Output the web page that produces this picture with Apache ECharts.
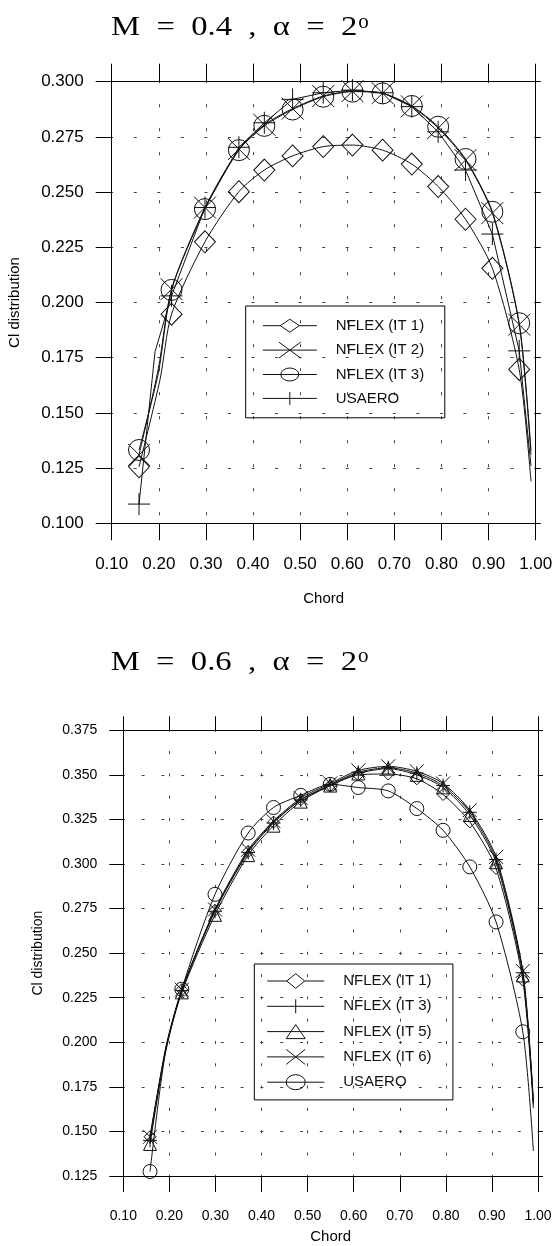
<!DOCTYPE html>
<html>
<head>
<meta charset="utf-8">
<script src="https://cdn.jsdelivr.net/npm/echarts@6/dist/echarts.min.js"></script>
<style>
  html, body { margin: 0; padding: 0; background: #fff; }
  #chart { width: 553px; height: 1246px; }
</style>
</head>
<body>
<div id="chart"></div>
<script>
// ======================
// DATA
// ======================

// upper plot: M = 0.4
const chordTop = [0.158, 0.227, 0.298, 0.370, 0.424, 0.484, 0.549, 0.611, 0.675, 0.737, 0.793, 0.851, 0.908, 0.965];
const topIt1 = [0.1256, 0.1947, 0.2275, 0.2502, 0.2600, 0.2664, 0.2706, 0.2713, 0.2690, 0.2627, 0.2525, 0.2377, 0.2155, 0.1697];
const topIt2 = [0.1310, 0.2060, 0.2430, 0.2695, 0.2805, 0.2878, 0.2935, 0.2957, 0.2948, 0.2888, 0.2790, 0.2645, 0.2405, 0.1900];
const topIt3 = [0.1332, 0.2057, 0.2423, 0.2690, 0.2800, 0.2874, 0.2932, 0.2955, 0.2947, 0.2890, 0.2796, 0.2650, 0.2411, 0.1906];
const topUsaero = [0.1087, 0.2030, 0.2430, 0.2703, 0.2814, 0.2920, 0.2950, 0.2962, 0.2950, 0.2887, 0.2773, 0.2600, 0.2310, 0.1781];
// points where the curves bend / end without a marker
const topIt1Extra = [[0.2025, 0.165], [0.990, 0.119]];
const topIt2Extra = [[0.199, 0.170], [0.990, 0.131]];
const topIt3Extra = [[0.199, 0.168], [0.990, 0.133]];
const topUsaeroExtra = [[0.192, 0.1777], [0.990, 0.126]];

// lower plot: M = 0.6
const chordBot = [0.158, 0.227, 0.299, 0.371, 0.426, 0.485, 0.549, 0.610, 0.675, 0.737, 0.794, 0.852, 0.909, 0.967];
const botIt1 = [0.1470, 0.2295, 0.2740, 0.3070, 0.3235, 0.3360, 0.3440, 0.3500, 0.3505, 0.3478, 0.3390, 0.3236, 0.2975, 0.2349];
const botIt3 = [0.1450, 0.2290, 0.2735, 0.3065, 0.3230, 0.3360, 0.3445, 0.3515, 0.3540, 0.3510, 0.3440, 0.3290, 0.3025, 0.2390];
const botIt5 = [0.1430, 0.2280, 0.2715, 0.3050, 0.3215, 0.3350, 0.3440, 0.3508, 0.3535, 0.3500, 0.3430, 0.3275, 0.3010, 0.2375];
const botIt6 = [0.1470, 0.2295, 0.2745, 0.3080, 0.3240, 0.3370, 0.3452, 0.3525, 0.3548, 0.3520, 0.3452, 0.3302, 0.3040, 0.2400];
const botUsaero = [0.1275, 0.2298, 0.2830, 0.3174, 0.3317, 0.3385, 0.3447, 0.3429, 0.3410, 0.3311, 0.3189, 0.2984, 0.2675, 0.2059];
const botIt1Extra = [[0.193, 0.1970], [0.990, 0.163]];
const botIt3Extra = [[0.193, 0.1975], [0.990, 0.166]];
const botIt5Extra = [[0.193, 0.1965], [0.990, 0.165]];
const botIt6Extra = [[0.193, 0.1980], [0.990, 0.167]];
const botUsaeroExtra = [[0.190, 0.1920], [0.990, 0.139]];

const topNames = ['NFLEX (IT 1)', 'NFLEX (IT 2)', 'NFLEX (IT 3)', 'USAERO'];
const botNames = ['NFLEX (IT 1)', 'NFLEX (IT 3)', 'NFLEX (IT 5)', 'NFLEX (IT 6)', 'USAERO'];

// ======================
// SYMBOLS
// ======================

const SYM = {
    plus: 'path://M10 0L10 20M0 10L20 10',
    cross: 'path://M0 0L20 20M20 0L0 20'
};

// legend icons: line + marker, sized to itemWidth x itemHeight
const topIcons = [
    'path://M0 8L17.5 8M36.5 8L54 8M17.5 8L27 1.5L36.5 8L27 14.5Z',
    'path://M0 8L54 8M16 0L38 16M38 0L16 16',
    'path://M0 8L54 8M18 8A9 6.5 0 1 0 36 8A9 6.5 0 1 0 18 8',
    'path://M0 8L54 8M27 1.5L27 14.5'
];
const botIcons = [
    'path://M0 8L19.5 8M37.5 8L57 8M19.5 8L28.5 0.7L37.5 8L28.5 15.3Z',
    'path://M0 8L57 8M28.5 1L28.5 15',
    'path://M0 8L57 8M19 15L28.5 1L38 15Z',
    'path://M0 8L57 8M19 0.5L38 15.5M38 0.5L19 15.5',
    'path://M0 8L57 8M19 8A9.5 7.5 0 1 0 38 8A9.5 7.5 0 1 0 19 8'
];

// ======================
// HELPERS
// ======================

function buildData(xs, ys, extra) {
    const marked = xs.map((x, i) => ({ value: [x, ys[i]] }));
    const plain = extra.map(p => ({ value: p, symbol: 'none' }));
    return marked.concat(plain).sort((a, b) => a.value[0] - b.value[0]);
}

function lineSeries(name, idx, data, symbol, size, smooth) {
    return {
        name,
        type: 'line',
        xAxisIndex: idx * 2,
        yAxisIndex: idx * 2,
        data,
        symbol,
        symbolSize: size,
        smooth,
        showAllSymbol: true,
        lineStyle: { color: '#111', width: 1 },
        itemStyle: { color: 'rgba(0,0,0,0)', borderColor: '#111', borderWidth: 1 },
        emphasis: { disabled: true },
        z: 3
    };
}

const FONT = 'Liberation Sans';

function xAxes(grid, opt) {
    return [{
        gridIndex: grid, type: 'value', position: 'bottom',
        min: 0.1, max: 1.0, interval: 0.1,
        axisLine: { show: true, onZero: false, lineStyle: { color: '#000', width: 1 } },
        axisTick: { show: true, inside: false, length: opt.tickLen, lineStyle: { color: '#000' } },
        axisLabel: { margin: opt.labelMargin, fontSize: opt.labelSize, fontFamily: FONT, color: '#000', formatter: v => v.toFixed(2) },
        splitLine: { show: true, lineStyle: { color: '#444', width: 1, type: opt.vDash, dashOffset: 1.5 } },
        name: 'Chord', nameLocation: 'middle', nameGap: opt.nameGap,
        nameTextStyle: { fontSize: opt.nameSize, fontFamily: FONT, color: '#000' }
    }, {
        gridIndex: grid, type: 'value', position: 'top',
        min: 0.1, max: 1.0, interval: 0.1,
        axisLine: { show: true, onZero: false, lineStyle: { color: '#000', width: 1 } },
        axisTick: { show: true, inside: false, length: opt.topTickLen, lineStyle: { color: '#000' } },
        axisLabel: { show: false },
        splitLine: { show: false }
    }];
}

function yAxes(grid, opt) {
    return [{
        gridIndex: grid, type: 'value', position: 'left',
        min: opt.min, max: opt.max, interval: 0.025,
        axisLine: { show: true, onZero: false, lineStyle: { color: '#000', width: 1 } },
        axisTick: { show: true, inside: false, length: opt.tickLen, lineStyle: { color: '#000' } },
        axisLabel: { margin: opt.labelMargin, fontSize: opt.labelSize, fontFamily: FONT, color: '#000', formatter: v => v.toFixed(3) },
        splitLine: { show: true, lineStyle: { color: '#444', width: 1, type: opt.hDash, dashOffset: 1.5 } },
        name: 'Cl distribution', nameLocation: 'middle', nameGap: opt.nameGap,
        nameTextStyle: { fontSize: opt.nameSize, fontFamily: FONT, color: '#000' }
    }, {
        gridIndex: grid, type: 'value', position: 'right',
        min: opt.min, max: opt.max, interval: 0.025,
        axisLine: { show: true, onZero: false, lineStyle: { color: '#000', width: 1 } },
        axisTick: { show: true, inside: false, length: 5, lineStyle: { color: '#000' } },
        axisLabel: { show: false },
        splitLine: { show: false }
    }];
}

function legend(names, icons, pos) {
    return {
        orient: 'vertical',
        left: pos.left, top: pos.top,
        padding: pos.padding,
        itemGap: pos.gap,
        itemWidth: pos.w, itemHeight: 16,
        borderColor: '#000', borderWidth: 1, borderRadius: 0,
        backgroundColor: 'transparent',
        selectedMode: false,
        itemStyle: { color: 'rgba(0,0,0,0)', borderColor: '#111', borderWidth: 1 },
        lineStyle: { color: '#111', width: 1 },
        textStyle: {
            fontSize: 15, fontFamily: FONT, color: '#111',
            lineHeight: 16, width: pos.textW, padding: [0, 0, 0, 14]
        },
        data: names.map((n, i) => ({ name: n, icon: icons[i] }))
    };
}

const TITLE_SCALE = 1.21;
const TITLE_SIZE = 27;

function title(x, y, num) {
    const text = 'M  =  ' + num + '  ,  α  =  2';
    const w = echarts.format.getTextRect
        ? echarts.format.getTextRect(text, TITLE_SIZE + 'px "Liberation Serif"').width
        : 204;
    return [{
        type: 'text', x, y, scaleX: TITLE_SCALE, z: 10,
        style: {
            text, fontSize: TITLE_SIZE, fontFamily: 'Liberation Serif', fill: '#000',
            align: 'left', verticalAlign: 'middle'
        }
    }, {
        type: 'text', x: x + w * TITLE_SCALE + 1, y: y - 6, z: 10,
        style: {
            text: 'o', fontSize: 21, fontFamily: 'Liberation Serif', fill: '#000',
            align: 'left', verticalAlign: 'middle'
        }
    }];
}

// ======================
// CHART
// ======================

const chart = echarts.init(document.getElementById('chart'), null, { renderer: 'canvas' });

const option = {
    animation: false,
    backgroundColor: '#fff',
    grid: [
        { left: 111.7, right: 17.3, top: 81.7, height: 441.6, outerBoundsMode: 'none', containLabel: false },
        { left: 123.3, right: 15, top: 730.3, height: 445.7, outerBoundsMode: 'none', containLabel: false }
    ],
    xAxis: [
        ...xAxes(0, { tickLen: 17, topTickLen: 18, labelMargin: 33, labelSize: 17, vDash: [3, 21], nameGap: 68, nameSize: 15 }),
        ...xAxes(1, { tickLen: 16, topTickLen: 14, labelMargin: 33, labelSize: 14, vDash: [3, 19.3], nameGap: 53, nameSize: 15 })
    ],
    yAxis: [
        ...yAxes(0, { min: 0.1, max: 0.3, tickLen: 16, labelMargin: 28, labelSize: 17, hDash: [3, 20.55], nameGap: 89, nameSize: 15 }),
        ...yAxes(1, { min: 0.125, max: 0.375, tickLen: 14, labelMargin: 26, labelSize: 14, hDash: [3, 16.8], nameGap: 78, nameSize: 14 })
    ],
    legend: [
        legend(topNames, topIcons, { left: 245.7, top: 306, padding: [11.7, 17, 11.4, 16.6], gap: 7.9, w: 54, textW: 92 }),
        legend(botNames, botIcons, { left: 254.3, top: 964, padding: [9, 15.7, 9.7, 12.4], gap: 9.3, w: 57, textW: 94 })
    ],
    graphic: [
        ...title(111, 28, '0.4'),
        ...title(110.7, 662.6, '0.6')
    ],
    series: [
        lineSeries(topNames[0], 0, buildData(chordTop, topIt1, topIt1Extra), 'diamond', [21, 22], 0.25),
        lineSeries(topNames[1], 0, buildData(chordTop, topIt2, topIt2Extra), SYM.cross, 22, 0.25),
        lineSeries(topNames[2], 0, buildData(chordTop, topIt3, topIt3Extra), 'circle', 21, 0.25),
        lineSeries(topNames[3], 0, buildData(chordTop, topUsaero, topUsaeroExtra), SYM.plus, 22, false),

        lineSeries(botNames[0], 1, buildData(chordBot, botIt1, botIt1Extra), 'diamond', 12, 0.25),
        lineSeries(botNames[1], 1, buildData(chordBot, botIt3, botIt3Extra), SYM.plus, 14, 0.25),
        lineSeries(botNames[2], 1, buildData(chordBot, botIt5, botIt5Extra), 'triangle', 13, 0.25),
        lineSeries(botNames[3], 1, buildData(chordBot, botIt6, botIt6Extra), SYM.cross, 14, 0.25),
        lineSeries(botNames[4], 1, buildData(chordBot, botUsaero, botUsaeroExtra), 'circle', 14, 0.25)
    ]
};

chart.setOption(option);
</script>
</body>
</html>
